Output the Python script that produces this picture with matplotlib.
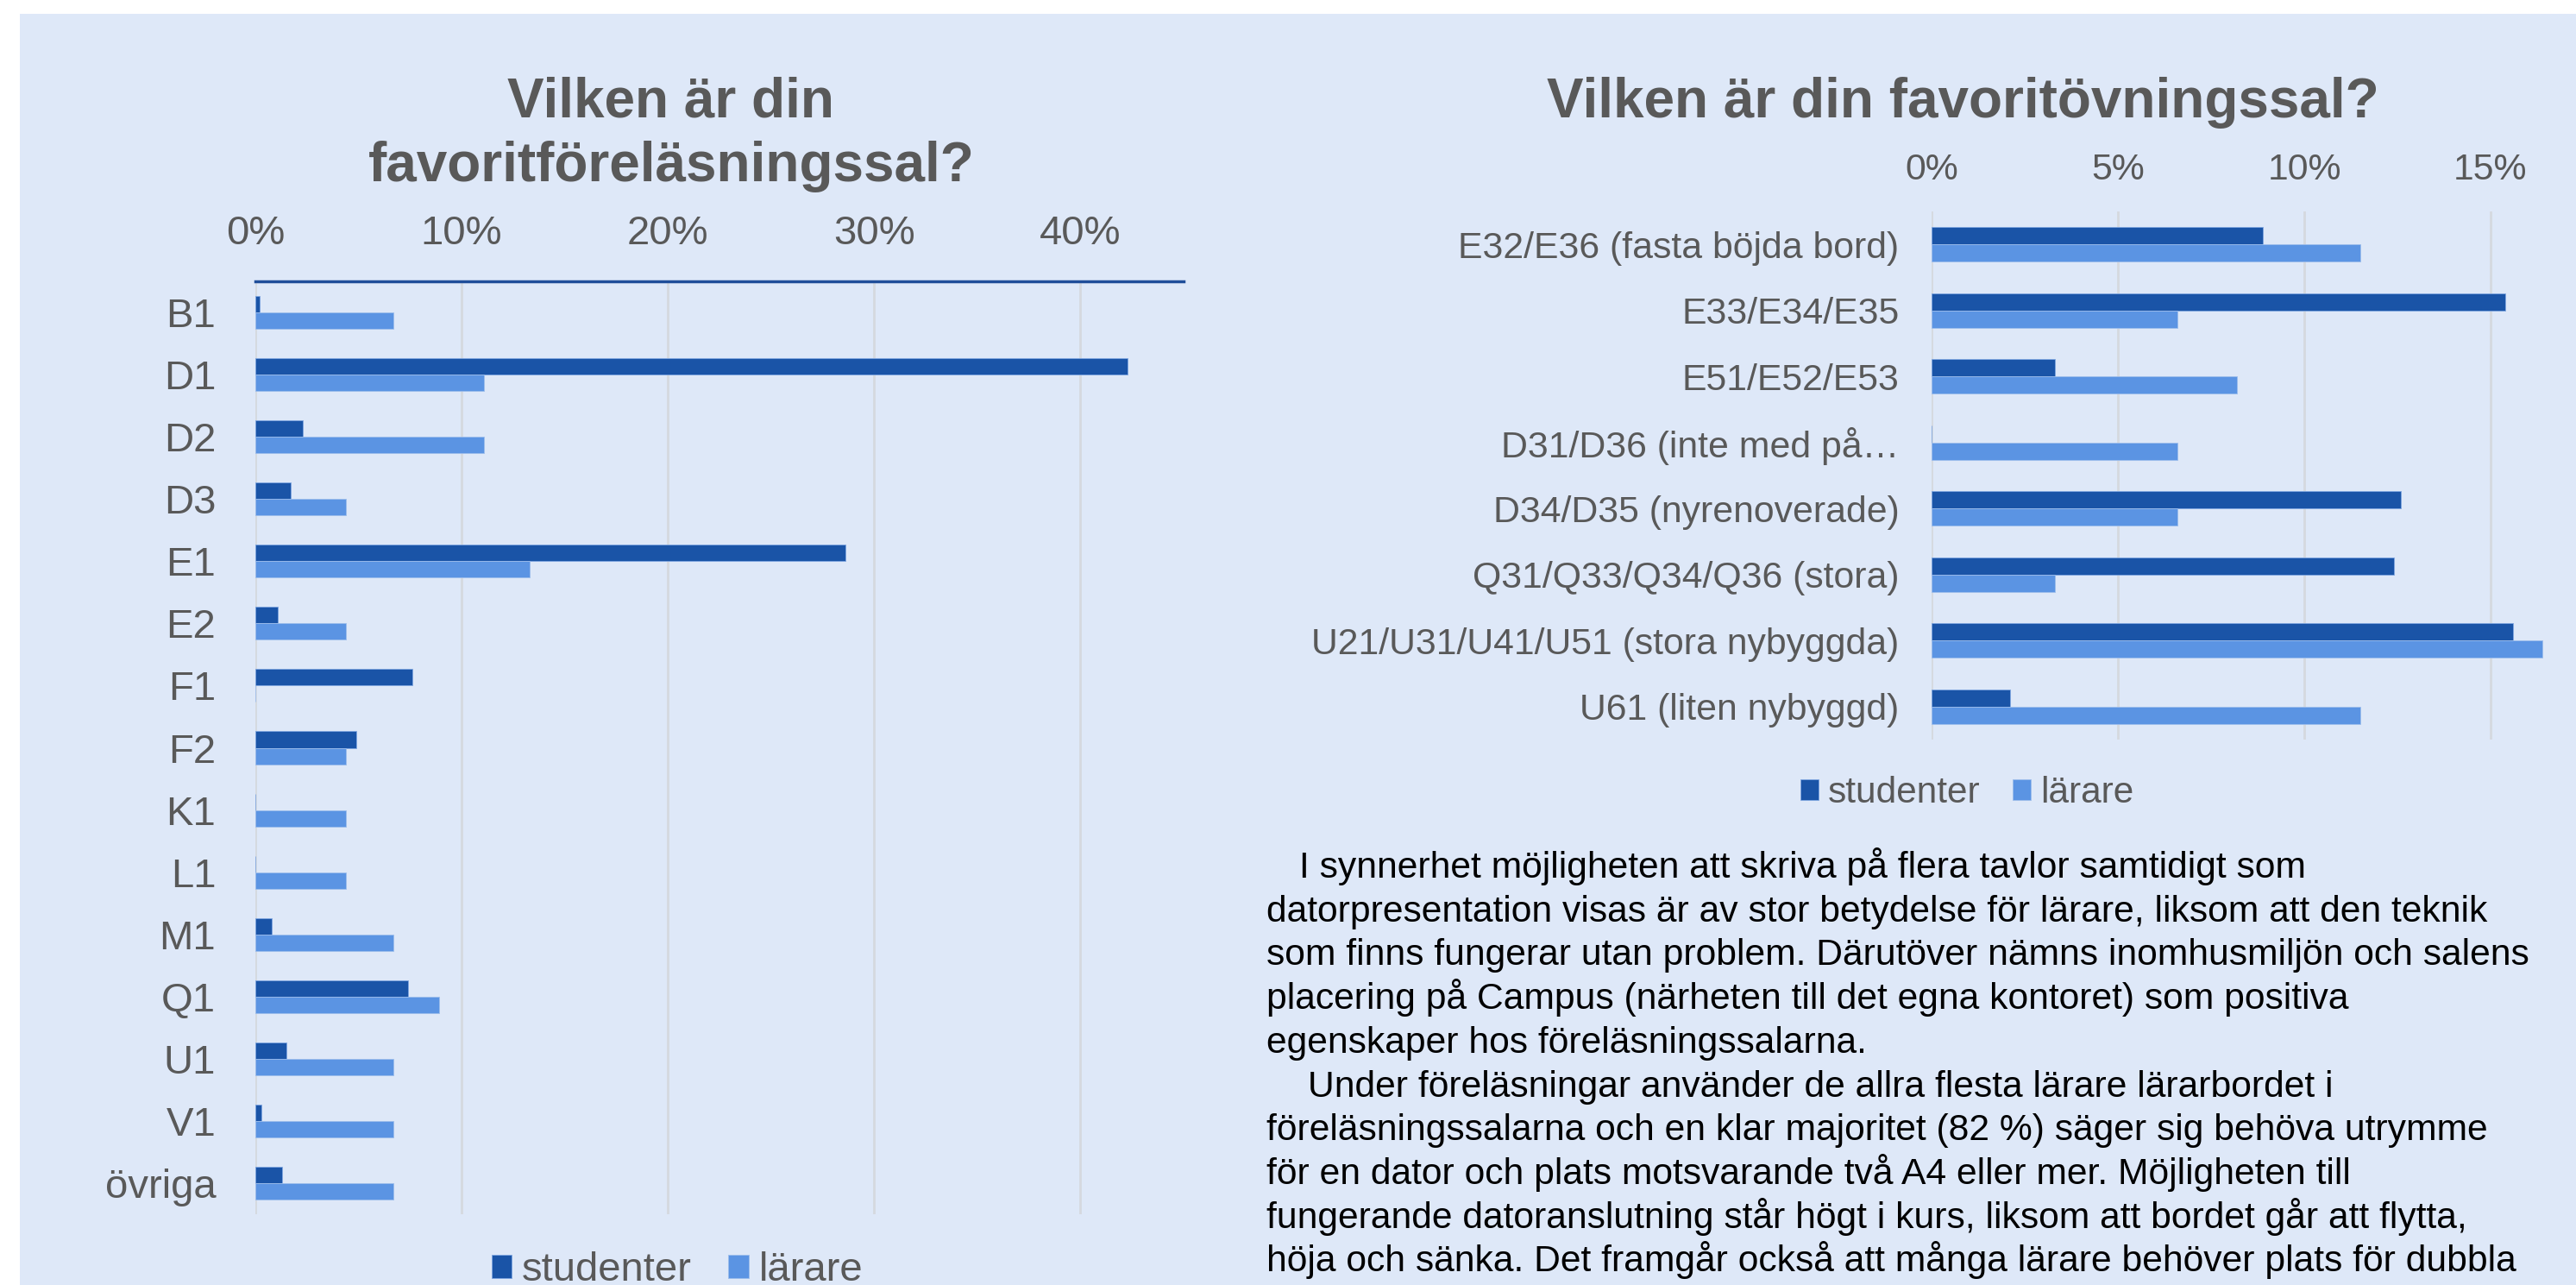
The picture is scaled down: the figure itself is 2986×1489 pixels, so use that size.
import matplotlib.pyplot as plt
from matplotlib.patches import Rectangle
import numpy as np

plt.rcParams['font.family'] = ['Liberation Sans', 'DejaVu Sans']

# Föreläsningssalar (andel av svaren)
salar = ['B1', 'D1', 'D2', 'D3', 'E1', 'E2', 'F1', 'F2', 'K1', 'L1', 'M1', 'Q1', 'U1', 'V1', 'övriga']
sal_studenter = [0.002, 0.423, 0.023, 0.017, 0.286, 0.011, 0.076, 0.049, 0.0, 0.0, 0.008, 0.074, 0.015, 0.003, 0.013]
sal_larare = [0.067, 0.111, 0.111, 0.044, 0.133, 0.044, 0.0, 0.044, 0.044, 0.044, 0.067, 0.089, 0.067, 0.067, 0.067]

# Övningssalar
ovn = ['E32/E36 (fasta böjda bord)', 'E33/E34/E35', 'E51/E52/E53', 'D31/D36 (inte med på…',
       'D34/D35 (nyrenoverade)', 'Q31/Q33/Q34/Q36 (stora)', 'U21/U31/U41/U51 (stora nybyggda)',
       'U61 (liten nybyggd)']
ovn_studenter = [0.089, 0.154, 0.033, 0.0, 0.126, 0.124, 0.156, 0.021]
ovn_larare = [0.115, 0.066, 0.082, 0.066, 0.066, 0.033, 0.164, 0.115]

text_rader = [
    'I synnerhet möjligheten att skriva på flera tavlor samtidigt som',
    'datorpresentation visas är av stor betydelse för lärare, liksom att den teknik',
    'som finns fungerar utan problem. Därutöver nämns inomhusmiljön och salens',
    'placering på Campus (närheten till det egna kontoret) som positiva',
    'egenskaper hos föreläsningssalarna.',
    'Under föreläsningar använder de allra flesta lärare lärarbordet i',
    'föreläsningssalarna och en klar majoritet (82 %) säger sig behöva utrymme',
    'för en dator och plats motsvarande två A4 eller mer. Möjligheten till',
    'fungerande datoranslutning står högt i kurs, liksom att bordet går att flytta,',
    'höja och sänka. Det framgår också att många lärare behöver plats för dubbla',
]
# vänsterkant för varje rad (px), indrag på styckets första rad
rad_x = [1506, 1468, 1468, 1468, 1468, 1516, 1468, 1468, 1468, 1468]

W, H = 2986, 1489
MORK = '#1A54A7'
LJUS = '#5B94E3'
BG = '#DEE8F8'
GRA = '#595959'

fig = plt.figure(figsize=(W / 100, H / 100), dpi=100, facecolor='white')
fig.patches.append(Rectangle((23 / W, 0), 1, 1 - 16 / H, transform=fig.transFigure,
                             facecolor=BG, edgecolor='none', zorder=-10))


def staplar(ax, kat, stud, lar, xmax, ticks, fs, pad_x, pad_y, bh):
    y = np.arange(len(kat))
    ax.barh(y - bh / 2, stud, height=bh, color=MORK, edgecolor='#7FA6E0', linewidth=0.6, label='studenter')
    ax.barh(y + bh / 2, lar, height=bh, color=LJUS, edgecolor='#9DBDEB', linewidth=0.6, label='lärare')
    ax.set_ylim(len(kat) - 0.5, -0.5)
    ax.set_xlim(0, xmax)
    ax.set_facecolor('none')
    ax.set_yticks(y)
    ax.set_yticklabels(kat)
    ax.set_xticks(ticks)
    ax.set_xticklabels([f'{round(t * 100)}%' for t in ticks])
    ax.xaxis.tick_top()
    ax.tick_params(axis='both', length=0, labelsize=fs, colors=GRA)
    ax.tick_params(axis='x', pad=pad_x)
    ax.tick_params(axis='y', pad=pad_y)
    for lbl in ax.get_xticklabels():
        lbl.set_verticalalignment('baseline')
    ax.grid(axis='x', color='#D5D9DF', linewidth=2)
    ax.set_axisbelow(True)
    for s in ax.spines.values():
        s.set_visible(False)


# vänster diagram
ax1 = fig.add_axes([296 / W, 1 - 1407 / H, 1076 / W, 1081 / H])
staplar(ax1, salar, sal_studenter, sal_larare, 0.45, [0, 0.1, 0.2, 0.3, 0.4], 34, 31, 33, 0.264)
ax1.spines['top'].set_visible(True)
ax1.spines['top'].set_color('#1F4E9A')
ax1.spines['top'].set_linewidth(2.5)

fig.text(778 / W, 1 - 135 / H, 'Vilken är din', ha='center', va='baseline',
         fontsize=46, fontweight='bold', color=GRA)
fig.text(778 / W, 1 - 210 / H, 'favoritföreläsningssal?', ha='center', va='baseline',
         fontsize=46, fontweight='bold', color=GRA)

h, l = ax1.get_legend_handles_labels()
fig.legend(h, l, loc='center', bbox_to_anchor=(785 / W, 1 - 1472 / H), ncol=2, frameon=False,
           fontsize=34, labelcolor=GRA, handlelength=0.5, handleheight=0.5,
           handletextpad=0.25, columnspacing=0.9)

# höger diagram (plotytan fortsätter utanför bildens högerkant)
ax2 = fig.add_axes([2239 / W, 1 - 857 / H, 864 / W, 612 / H])
staplar(ax2, ovn, ovn_studenter, ovn_larare, 0.20, [0, 0.05, 0.10, 0.15], 30.8, 27, 27, 0.26)

fig.text(2275 / W, 1 - 136 / H, 'Vilken är din favoritövningssal?', ha='center', va='baseline',
         fontsize=46, fontweight='bold', color=GRA)

h, l = ax2.get_legend_handles_labels()
fig.legend(h, l, loc='center', bbox_to_anchor=(2280 / W, 1 - 919 / H), ncol=2, frameon=False,
           fontsize=30.5, labelcolor=GRA, handlelength=0.5, handleheight=0.5,
           handletextpad=0.25, columnspacing=0.9)

# brödtext
for i, rad in enumerate(text_rader):
    fig.text(rad_x[i] / W, 1 - (1017 + 50.7 * i) / H, rad, ha='left', va='baseline',
             fontsize=30.7, color='black')

fig.savefig('out.png', dpi=100, facecolor='white')
